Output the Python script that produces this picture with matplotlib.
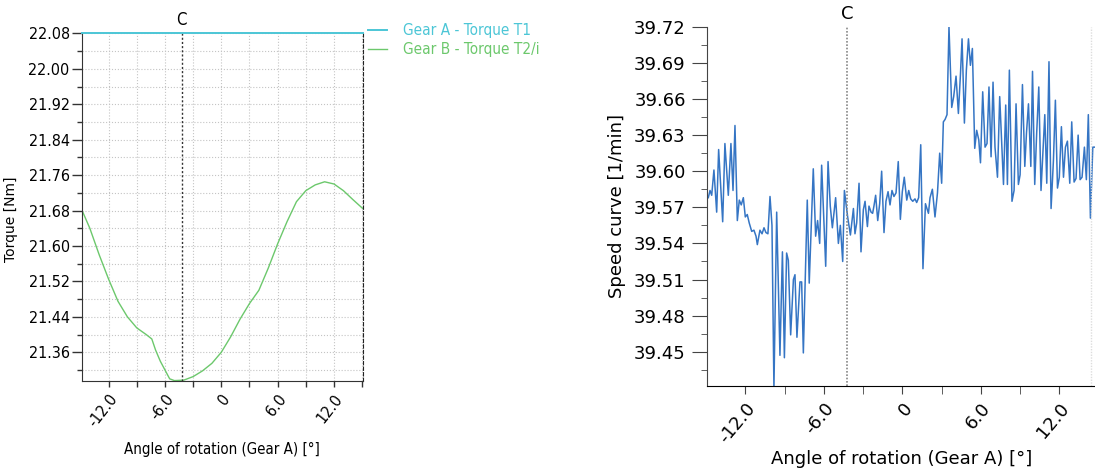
import matplotlib
matplotlib.use("Agg")
import matplotlib.pyplot as plt
from matplotlib import font_manager as fm
from matplotlib.ticker import MultipleLocator

# ---- left chart: torque ----
gear_a_angle = [-14.82, 15.04]
gear_a_torque = [22.08, 22.08]

gear_b_angle = [-14.82, -14.0, -13.0, -12.0, -11.0, -10.0, -9.0, -8.0, -7.4, -7.0,
                -6.5, -6.0, -5.5, -5.0, -4.0, -3.0, -2.0, -1.0, 0.0, 1.0,
                2.0, 3.0, 4.0, 5.0, 6.0, 7.0, 8.0, 9.0, 10.0, 11.0,
                12.0, 13.0, 14.0, 15.04]
gear_b_torque = [21.68, 21.64, 21.58, 21.525, 21.475, 21.44, 21.415, 21.40, 21.39, 21.365,
                 21.34, 21.32, 21.30, 21.296, 21.297, 21.305, 21.318, 21.335, 21.36, 21.395,
                 21.435, 21.47, 21.50, 21.55, 21.605, 21.655, 21.70, 21.725, 21.738, 21.745,
                 21.74, 21.725, 21.705, 21.685]

# ---- right chart: speed ----
speed_angle = [-14.84, -14.71, -14.58, -14.41, -14.20, -14.05, -13.74, -13.57, -13.31, -13.11,
               -12.95, -12.80, -12.62, -12.47, -12.32, -12.16, -12.01, -11.86, -11.71, -11.52,
               -11.35, -11.19, -11.09, -10.89, -10.73, -10.58, -10.43, -10.28, -10.12, -9.97,
               -9.82, -9.61, -9.36, -9.17, -9.02, -8.85, -8.72, -8.54, -8.33, -8.21,
               -8.06, -7.83, -7.70, -7.57, -7.27, -7.12, -6.81, -6.63, -6.48, -6.32,
               -6.17, -5.86, -5.68, -5.51, -5.35, -5.10, -4.89, -4.74, -4.56, -4.43,
               -4.18, -3.97, -3.74, -3.62, -3.49, -3.31, -3.16, -2.98, -2.85, -2.67,
               -2.55, -2.39, -2.27, -2.17, -2.04, -1.88, -1.73, -1.58, -1.40, -1.25,
               -1.09, -0.94, -0.79, -0.64, -0.48, -0.31, -0.15, 0.00, 0.15, 0.34,
               0.49, 0.64, 0.80, 0.97, 1.10, 1.25, 1.41, 1.58, 1.77, 2.00,
               2.12, 2.30, 2.50, 2.69, 2.86, 3.01, 3.14, 3.27, 3.42, 3.57,
               3.78, 3.93, 4.11, 4.29, 4.45, 4.57, 4.75, 4.90, 5.06, 5.21,
               5.36, 5.54, 5.69, 5.85, 5.98, 6.15, 6.33, 6.48, 6.63, 6.79,
               6.94, 7.09, 7.28, 7.45, 7.74, 7.91, 8.04, 8.19, 8.39, 8.55,
               8.70, 8.88, 9.01, 9.19, 9.37, 9.50, 9.65, 9.83, 9.96, 10.13,
               10.28, 10.44, 10.61, 10.74, 10.90, 11.05, 11.22, 11.38, 11.56, 11.71,
               11.87, 12.01, 12.17, 12.33, 12.48, 12.63, 12.81, 12.96, 13.14, 13.29,
               13.45, 13.60, 13.75, 13.93, 14.08, 14.23, 14.39, 14.57, 14.74]
speed_rpm = [39.578, 39.584, 39.580, 39.601, 39.566, 39.618, 39.558, 39.623, 39.580, 39.623,
             39.584, 39.638, 39.559, 39.576, 39.572, 39.578, 39.562, 39.564, 39.557, 39.550,
             39.551, 39.546, 39.539, 39.551, 39.548, 39.553, 39.549, 39.548, 39.579, 39.555,
             39.420, 39.566, 39.447, 39.533, 39.445, 39.532, 39.526, 39.464, 39.510, 39.514,
             39.462, 39.508, 39.508, 39.449, 39.576, 39.507, 39.602, 39.546, 39.559, 39.540,
             39.605, 39.521, 39.608, 39.571, 39.553, 39.578, 39.540, 39.555, 39.525, 39.584,
             39.562, 39.547, 39.569, 39.548, 39.557, 39.590, 39.533, 39.568, 39.575, 39.554,
             39.571, 39.566, 39.565, 39.571, 39.580, 39.559, 39.573, 39.600, 39.549, 39.575,
             39.583, 39.572, 39.584, 39.579, 39.582, 39.608, 39.560, 39.583, 39.595, 39.576,
             39.584, 39.577, 39.575, 39.577, 39.574, 39.578, 39.622, 39.519, 39.573, 39.565,
             39.578, 39.585, 39.562, 39.582, 39.615, 39.590, 39.641, 39.643, 39.647, 39.720,
             39.653, 39.662, 39.679, 39.648, 39.681, 39.710, 39.640, 39.684, 39.710, 39.688,
             39.702, 39.619, 39.634, 39.626, 39.607, 39.666, 39.620, 39.623, 39.670, 39.612,
             39.674, 39.620, 39.595, 39.662, 39.589, 39.655, 39.589, 39.684, 39.575, 39.584,
             39.656, 39.589, 39.597, 39.672, 39.604, 39.632, 39.656, 39.604, 39.683, 39.589,
             39.632, 39.670, 39.584, 39.612, 39.647, 39.590, 39.691, 39.569, 39.609, 39.659,
             39.586, 39.595, 39.637, 39.595, 39.620, 39.625, 39.590, 39.641, 39.591, 39.594,
             39.630, 39.593, 39.595, 39.620, 39.593, 39.647, 39.561, 39.620, 39.620]

marker_c = -4.2
tick_values = [-12, -6, 0, 6, 12]
tick_labels = ["-12.0", "-6.0", "0", "6.0", "12.0"]

# pick a narrow font for the left chart if one is installed
font_files = [f.fname for f in fm.fontManager.ttflist]
if any("LiberationSansNarrow-Regular" in f for f in font_files):
    narrow = dict(family="Liberation Sans Narrow")
    scale = 1.1
elif any("DejaVuSansCondensed.ttf" in f for f in font_files):
    narrow = dict(family="DejaVu Sans", stretch="condensed")
    scale = 1.0
else:
    narrow = dict(family="Liberation Sans")
    scale = 0.95

fig = plt.figure(figsize=(10.95, 4.68), dpi=100)

# ---------------- left ----------------
ax1 = fig.add_axes([0.075, 0.1865, 0.2561, 0.742])
ax1.plot(gear_b_angle, gear_b_torque, color="#6cc86c", lw=1.0, label="Gear B - Torque T2/i")
ax1.plot(gear_a_angle, gear_a_torque, color="#4cc6d6", lw=1.4, label="Gear A - Torque T1",
         clip_on=False, zorder=5)
ax1.set_xlim(-14.82, 15.04)
ax1.set_ylim(21.2957, 22.08)
ax1.set_yticks([21.36, 21.44, 21.52, 21.60, 21.68, 21.76, 21.84, 21.92, 22.00, 22.08])
ax1.yaxis.set_minor_locator(MultipleLocator(0.04))
ax1.set_xticks(tick_values)
ax1.set_xticklabels(tick_labels)
ax1.xaxis.set_minor_locator(MultipleLocator(3))
ax1.grid(which="both", color="#c4c4c4", linestyle=":", lw=0.8)
ax1.set_axisbelow(True)
ax1.tick_params(which="both", direction="out", length=4.5, width=1, color="#333333", pad=3)
ax1.tick_params(axis="y", which="major", length=7, pad=2)
ax1.tick_params(axis="y", which="minor", length=3.5)
for lbl in ax1.get_yticklabels() + ax1.get_xticklabels():
    lbl.set(**narrow)
    lbl.set_fontsize(11.5 * scale)
for lbl in ax1.get_xticklabels():
    lbl.set_rotation(52)
    lbl.set_ha("right")
    lbl.set_rotation_mode("anchor")
ax1.spines["top"].set_visible(False)
ax1.spines["right"].set_linestyle((0, (3, 2)))
ax1.spines["right"].set_color("#222222")
ax1.spines["left"].set_color("#333333")
ax1.spines["bottom"].set_color("#333333")
ax1.axvline(marker_c, color="#333333", ls=(0, (1.5, 1.5)), lw=1)
ax1.annotate("C", (marker_c, 22.08), xytext=(0, 3), textcoords="offset points",
             ha="center", va="bottom", fontsize=12 * scale, **narrow)
ax1.set_ylabel("Torque [Nm]", fontsize=10)
ax1.yaxis.set_label_coords(-0.228, 0.465)
ax1.set_xlabel("Angle of rotation (Gear A) [°]", fontsize=10.8 * scale, labelpad=9, **narrow)

handles, labels = ax1.get_legend_handles_labels()
leg = ax1.legend(handles[::-1], labels[::-1], loc="upper left", bbox_to_anchor=(1.02, 1.03),
                 frameon=False, borderpad=0, borderaxespad=0, handlelength=1.25,
                 handletextpad=1.0, labelspacing=0.28,
                 prop=dict(size=11 * scale, **narrow))
for txt, h in zip(leg.get_texts(), leg.legend_handles):
    txt.set_color(h.get_color())

# ---------------- right ----------------
ax2 = fig.add_axes([0.6459, 0.1752, 0.3541, 0.7675])
ax2.plot(speed_angle, speed_rpm, color="#3575c4", lw=1.1)
ax2.set_xlim(-14.92, 14.74)
ax2.set_ylim(39.4215, 39.72)
ax2.set_yticks([39.45, 39.48, 39.51, 39.54, 39.57, 39.60, 39.63, 39.66, 39.69, 39.72])
ax2.yaxis.set_minor_locator(MultipleLocator(0.015))
ax2.set_xticks(tick_values)
ax2.set_xticklabels(tick_labels)
ax2.xaxis.set_minor_locator(MultipleLocator(3))
ax2.tick_params(which="both", direction="out", color="#444444")
ax2.tick_params(axis="y", which="major", length=10.5, pad=5, labelsize=13)
ax2.tick_params(axis="y", which="minor", length=4)
ax2.tick_params(axis="x", which="both", length=6, labelsize=13)
for lbl in ax2.get_xticklabels():
    lbl.set_rotation(50)
    lbl.set_ha("right")
    lbl.set_rotation_mode("anchor")
ax2.spines["top"].set_visible(False)
ax2.spines["right"].set_visible(False)
ax2.spines["left"].set_color("#444444")
ax2.axvline(marker_c, color="#888888", ls=(0, (1, 1)), lw=1.2)
ax2.axvline(14.45, color="#dddddd", ls=(0, (1, 1)), lw=1)
ax2.text(marker_c, 39.723, "C", ha="center", va="bottom", fontsize=13)
ax2.set_ylabel("Speed curve [1/min]", fontsize=13, labelpad=6)
ax2.set_xlabel("Angle of rotation (Gear A) [°]", fontsize=13, labelpad=3)

fig.savefig("out.png", dpi=100)
